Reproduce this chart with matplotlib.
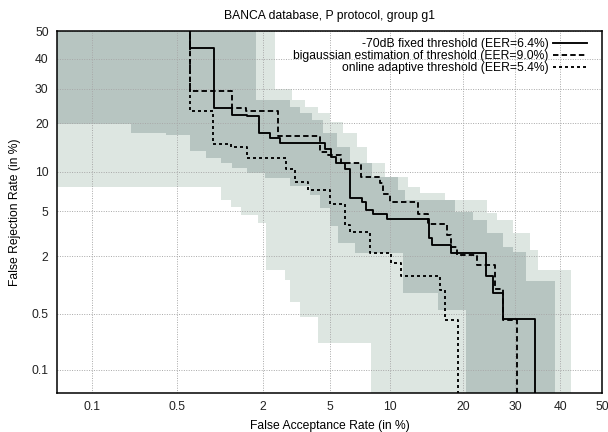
import numpy as np
import matplotlib
matplotlib.use("Agg")
import matplotlib.pyplot as plt
from statistics import NormalDist

plt.rcParams['font.family'] = ['Liberation Sans', 'DejaVu Sans']

# ---------------- data (percent) ----------------
title = "BANCA database, P protocol, group g1"
xlabel = "False Acceptance Rate (in %)"
ylabel = "False Rejection Rate (in %)"
tick_values = [0.1, 0.5, 2, 5, 10, 20, 30, 40, 50]
tick_labels = ["0.1", "0.5", "2", "5", "10", "20", "30", "40", "50"]

labels = ["-70dB fixed threshold (EER=6.4%)",
          "bigaussian estimation of threshold (EER=9.0%)",
          "online adaptive threshold (EER=5.4%)"]

# -70dB fixed threshold (step points: FAR, FRR)
fixed_far = [0.628, 0.938, 1.26, 1.58, 1.88, 2.21, 2.55, 4.66, 5.07, 5.39, 5.96, 6.33,
             7.29, 7.69, 8.26, 9.6, 14.8, 15.1, 18.1, 24.2, 25.5, 27.5, 34.3, 34.3]
fixed_frr = [100, 43.8, 24.1, 22.3, 21.8, 17.6, 16.4, 15.4, 14.2, 12.6, 11.4, 10.5,
             6.43, 5.98, 5.14, 4.76, 4.3, 2.94, 2.55, 2.14, 1.28, 0.84, 0.429, 0.0]

# bigaussian estimation of threshold
bigauss_far = [0.628, 1.26, 1.56, 2.49, 4.4, 4.84, 5.73, 7.26, 8.92, 9.22, 9.94, 13.2,
               14.6, 17.4, 18.1, 19.0, 22.4, 25.9, 27.5, 30.4, 30.4]
bigauss_frr = [100, 29.2, 24.1, 23.2, 16.9, 13.5, 12.9, 11.4, 9.16, 8.29, 6.86, 5.98,
               4.76, 3.89, 3.15, 2.45, 2.08, 1.66, 0.934, 0.421, 0.0]

# online adaptive threshold
online_far = [0.628, 0.926, 1.24, 1.57, 2.8, 3.14, 3.76, 4.99, 6.0, 6.33, 7.98, 10.1,
              11.2, 16.4, 17.1, 19.2, 19.2]
online_frr = [100, 23.4, 15.1, 14.6, 12.4, 10.4, 8.5, 7.3, 5.79, 3.85, 3.37, 2.14,
              1.71, 1.27, 0.911, 0.421, 0.0]

# confidence bands: upper-right staircase (x levels, y breaks) and lower-left staircase
dark_upper_far = [1.82, 2.93, 3.36, 3.94, 4.54, 5.41, 6.33, 8.17, 10.8, 11.6, 18.7, 21.7,
                  24.3, 27.4, 29.5, 32.3, 38.8]
dark_upper_frr = [26.5, 24.4, 22.7, 20.9, 17.6, 14.5, 11.4, 9.16, 7.36, 6.17, 4.95, 4.25,
                  3.28, 2.45, 2.2, 1.13]
dark_lower_far = [0.218, 0.416, 0.625, 0.828, 1.06, 1.26, 1.59, 2.05, 2.93, 3.84, 4.37,
                  4.96, 5.48, 6.72, 11.4, 16.0, 20.5]
dark_lower_frr = [19.8, 17.6, 17.2, 13.6, 12.3, 11.4, 10.6, 9.78, 9.01, 7.88, 6.75, 5.33,
                  3.77, 2.66, 2.14, 0.84, 0.549]

light_upper_far = [2.37, 3.01, 3.59, 4.26, 4.96, 5.82, 6.88, 7.72, 9.42, 12.0, 13.5, 17.1,
                   24.3, 26.2, 29.5, 33.1, 34.9, 42.6]
light_upper_frr = [29.9, 26.5, 24.4, 22.7, 20.3, 17.6, 14.5, 11.4, 9.16, 7.75, 6.99, 6.17,
                   4.86, 4.25, 3.28, 2.29, 1.47]
light_lower_far = [1.06, 1.24, 1.45, 1.86, 2.1, 2.73, 2.93, 3.36, 4.27, 8.14]
light_lower_frr = [7.79, 6.17, 5.46, 4.67, 3.98, 1.47, 1.16, 0.68, 0.46, 0.221]

# ---------------- probit scale ----------------
_nd = NormalDist()
_ppf = np.vectorize(lambda p: _nd.inv_cdf(p), otypes=[float])
_cdf = np.vectorize(lambda z: _nd.cdf(z), otypes=[float])


def fwd(v):
    v = np.asarray(v, dtype=float)
    return _ppf(np.clip(v / 100.0, 1e-9, 1 - 1e-9))


def inv(z):
    z = np.asarray(z, dtype=float)
    return _cdf(z) * 100.0


LO, HI = 1e-4, 99.99


def upper_path(xs, ys):
    pts = [(xs[0], HI)]
    for i, y in enumerate(ys):
        pts += [(xs[i], y), (xs[i + 1], y)]
    pts.append((xs[-1], LO))
    return pts


def lower_path(xs, ys):
    pts = [(LO, ys[0])]
    for i, x in enumerate(xs):
        pts.append((x, ys[i]))
        if i + 1 < len(ys):
            pts.append((x, ys[i + 1]))
    pts.append((xs[-1], LO))
    return pts


def band(ux, uy, lx, ly):
    pts = [(LO, HI)] + upper_path(ux, uy) + lower_path(lx, ly)[::-1]
    return np.array(pts)


FS = 8.7
fig = plt.figure(figsize=(6.08, 4.32), dpi=100)
ax = fig.add_axes([57 / 608, 1 - 393 / 432, 545 / 608, 362 / 432])
ax.set_xscale('function', functions=(fwd, inv))
ax.set_yscale('function', functions=(fwd, inv))

lim = inv(-3.3)
ax.set_xlim(float(lim), 50)
ax.set_ylim(float(lim), 50)

light = band(light_upper_far, light_upper_frr, light_lower_far, light_lower_frr)
dark = band(dark_upper_far, dark_upper_frr, dark_lower_far, dark_lower_frr)
ax.fill(light[:, 0], light[:, 1], color='#dde6e1', lw=0, zorder=0.5)
ax.fill(dark[:, 0], dark[:, 1], color='#b7c5c1', lw=0, zorder=0.6)

lw = 1.35
ax.plot(fixed_far, fixed_frr, drawstyle='steps-pre', color='black', lw=lw,
        label=labels[0], zorder=3)
ax.plot(bigauss_far, bigauss_frr, drawstyle='steps-pre', color='black', lw=lw,
        linestyle=(0, (2.9, 1.7)), label=labels[1], zorder=3)
ax.plot(online_far, online_frr, drawstyle='steps-pre', color='black', lw=lw,
        linestyle=(0, (1.6, 1.6)), label=labels[2], zorder=3)

ax.set_xticks(tick_values)
ax.set_xticklabels(tick_labels)
ax.set_yticks(tick_values)
ax.set_yticklabels(tick_labels)
ax.minorticks_off()
ax.tick_params(length=0, labelsize=FS, colors='#222222', pad=6)
ax.grid(True, linestyle=(0, (1, 1.5)), color='#a8a8a8', lw=0.7)

for s in ax.spines.values():
    s.set_color('black')
    s.set_linewidth(1.1)

ax.set_title(title, fontsize=FS, pad=9)
ax.set_xlabel(xlabel, fontsize=FS, labelpad=5)
ax.set_ylabel(ylabel, fontsize=FS, labelpad=8)

leg = ax.legend(loc='upper right', bbox_to_anchor=(0.99, 1.008), frameon=False,
                markerfirst=False, fontsize=FS, handlelength=2.8,
                handletextpad=0.35, labelspacing=0.0, borderpad=0.3)
for t in leg.get_texts():
    t.set_ha('right')

fig.savefig("out.png", dpi=100)
